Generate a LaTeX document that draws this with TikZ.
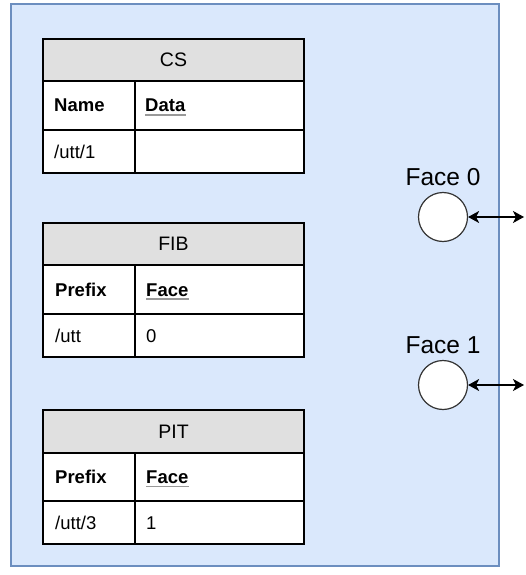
\documentclass[tikz,border=0pt]{standalone}
\usepackage{fontspec}
\setmainfont{Liberation Sans}
\usetikzlibrary{arrows.meta}
\definecolor{boxblue}{HTML}{DAE8FC}
\definecolor{boxline}{HTML}{6C8EBF}
\definecolor{headgray}{HTML}{E0E0E0}
\tikzset{FACE/.style={draw=black!80,circle,fill=white,line width=1.2pt,minimum size=49pt,inner sep=0pt}}

\begin{document}
\begin{tikzpicture}[x=1pt,y=-1pt]
	\tikzstyle{tbl} = [line width=1.3pt, draw=black]
	\tikzstyle{head} = [inner sep=0pt, text height=13.5pt, text depth=0pt, font=\fontsize{19.5}{22}\selectfont]
	\tikzstyle{cell} = [anchor=west, inner sep=0pt, text height=13pt, text depth=0pt, font=\fontsize{18.5}{22}\selectfont]
	\tikzstyle{keyline} = [draw=black!40, line width=1.3pt]
	\tikzstyle{link} = [{Stealth[length=11pt,width=12pt,inset=3pt]}-{Stealth[length=11pt,width=12pt,inset=3pt]}, line width=1.1pt]
	
	\useasboundingbox (0,0) rectangle (525,575);
	\draw [fill=boxblue,draw=boxline,line width=1.3pt] (11,4) rectangle (499,566);
	
	% CS
	\draw [tbl,fill=headgray] (43,39) rectangle (304,81);
	\draw [tbl,fill=white] (43,81) rectangle (304,173);
	\draw [tbl] (43,130) -- (304,130) (135,81) -- (135,173);
	\node [head] (cs) at (173.5,60) {CS};
	\node [cell,font=\fontsize{18.5}{22}\selectfont\bfseries] (csname) at (54,105.5) {Name};
	\node [cell,font=\fontsize{18.5}{22}\selectfont\bfseries] (csdata) at (145,105.5) {Data};
	\draw [keyline] ([yshift=-3pt]csdata.base west) -- ([yshift=-3pt]csdata.base east);
	\node [cell] (csval) at (54,151.5) {/utt/1};
	
	% FIB
	\draw [tbl,fill=headgray] (43,223) rectangle (304,265);
	\draw [tbl,fill=white] (43,265) rectangle (304,357);
	\draw [tbl] (43,314) -- (304,314) (135,265) -- (135,357);
	\node [head] (fib) at (173.5,244) {FIB};
	\node [cell,font=\fontsize{18.5}{22}\selectfont\bfseries] (fibprefix) at (55,289.5) {Prefix};
	\node [cell,font=\fontsize{18.5}{22}\selectfont\bfseries] (fibface) at (146,289.5) {Face};
	\draw [keyline] ([yshift=-3pt]fibface.base west) -- ([yshift=-3pt]fibface.base east);
	\node [cell] (fibval) at (55,335.5) {/utt};
	\node [cell] (fibnum) at (146,335.5) {0};
	
	% PIT
	\draw [tbl,fill=headgray] (43,410) rectangle (304,453);
	\draw [tbl,fill=white] (43,453) rectangle (304,544);
	\draw [tbl] (43,501) -- (304,501) (135,453) -- (135,544);
	\node [head] (pit) at (173.5,431.5) {PIT};
	\node [cell,font=\fontsize{18.5}{22}\selectfont\bfseries] (pitprefix) at (55,477) {Prefix};
	\node [cell,font=\fontsize{18.5}{22}\selectfont\bfseries] (pitface) at (146,477) {Face};
	\draw [keyline] ([yshift=-3pt]pitface.base west) -- ([yshift=-3pt]pitface.base east);
	\node [cell] (pitval) at (55,522.5) {/utt/3};
	\node [cell] (pitnum) at (146,522.5) {1};
	
	% faces
	\node [FACE] (face0) at (443,217) {};
	\node [anchor=base,inner sep=0pt,font=\fontsize{24.5}{28}\selectfont] (face0lbl) at (443,185) {Face 0};
	\coordinate (out0) at (524,217);
	\draw [link] (face0.east) -- (out0);
	
	\node [FACE] (face1) at (443,385) {};
	\node [anchor=base,inner sep=0pt,font=\fontsize{24.5}{28}\selectfont] (face1lbl) at (443,353) {Face 1};
	\coordinate (out1) at (524,385);
	\draw [link] (face1.east) -- (out1);
	
\end{tikzpicture}
\end{document}
